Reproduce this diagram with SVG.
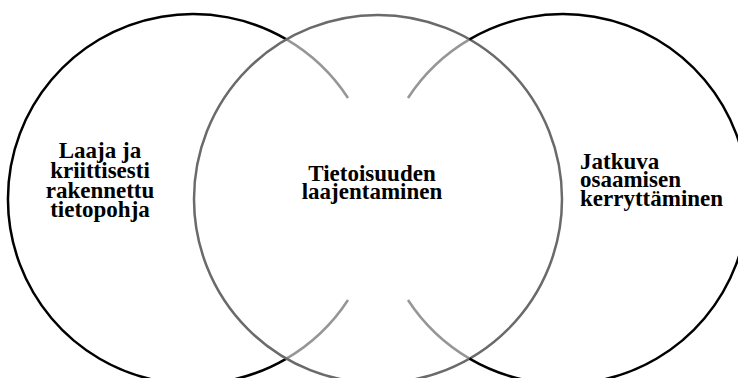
<svg xmlns="http://www.w3.org/2000/svg" width="738" height="378" viewBox="0 0 738 378">
<style>
.blk{fill:none;stroke:#000;stroke-width:2.5}
.mid{fill:none;stroke:#6a6a6a;stroke-width:2.5}
.lt{fill:none;stroke:#969696;stroke-width:2.5}
text{font-family:"Liberation Serif","Times New Roman",serif;font-weight:bold;font-size:23px;fill:#000}
</style>
<rect width="738" height="378" fill="#fff"/>
<g id="connectors">
<path class="lt" d="M348,98 A185,185 0 0 0 286.5,39.4"/>
<path class="lt" d="M286.5,358.6 A185,185 0 0 0 348,300"/>
<path class="lt" d="M408,98 A185,185 0 0 1 469.5,39.4"/>
<path class="lt" d="M469.5,358.6 A185,185 0 0 1 408,300"/>
</g>
<g id="node-left">
<path class="blk" d="M286.5,39.4 A185,185 0 1 0 286.5,358.6"/>
<text text-anchor="middle"><tspan x="100" y="158">Laaja ja</tspan><tspan x="100" y="178">kriittisesti</tspan><tspan x="100" y="198">rakennettu</tspan><tspan x="100" y="217">tietopohja</tspan></text>
</g>
<g id="node-middle">
<circle class="mid" cx="378" cy="199" r="184"/>
<text text-anchor="middle"><tspan x="372" y="181">Tietoisuuden</tspan><tspan x="372" y="199">laajentaminen</tspan></text>
</g>
<g id="node-right">
<path class="blk" d="M469.5,39.4 A185,185 0 1 1 469.5,358.6"/>
<text><tspan x="580" y="169">Jatkuva</tspan><tspan x="580" y="187">osaamisen</tspan><tspan x="580" y="206">kerryttäminen</tspan></text>
</g>
</svg>
